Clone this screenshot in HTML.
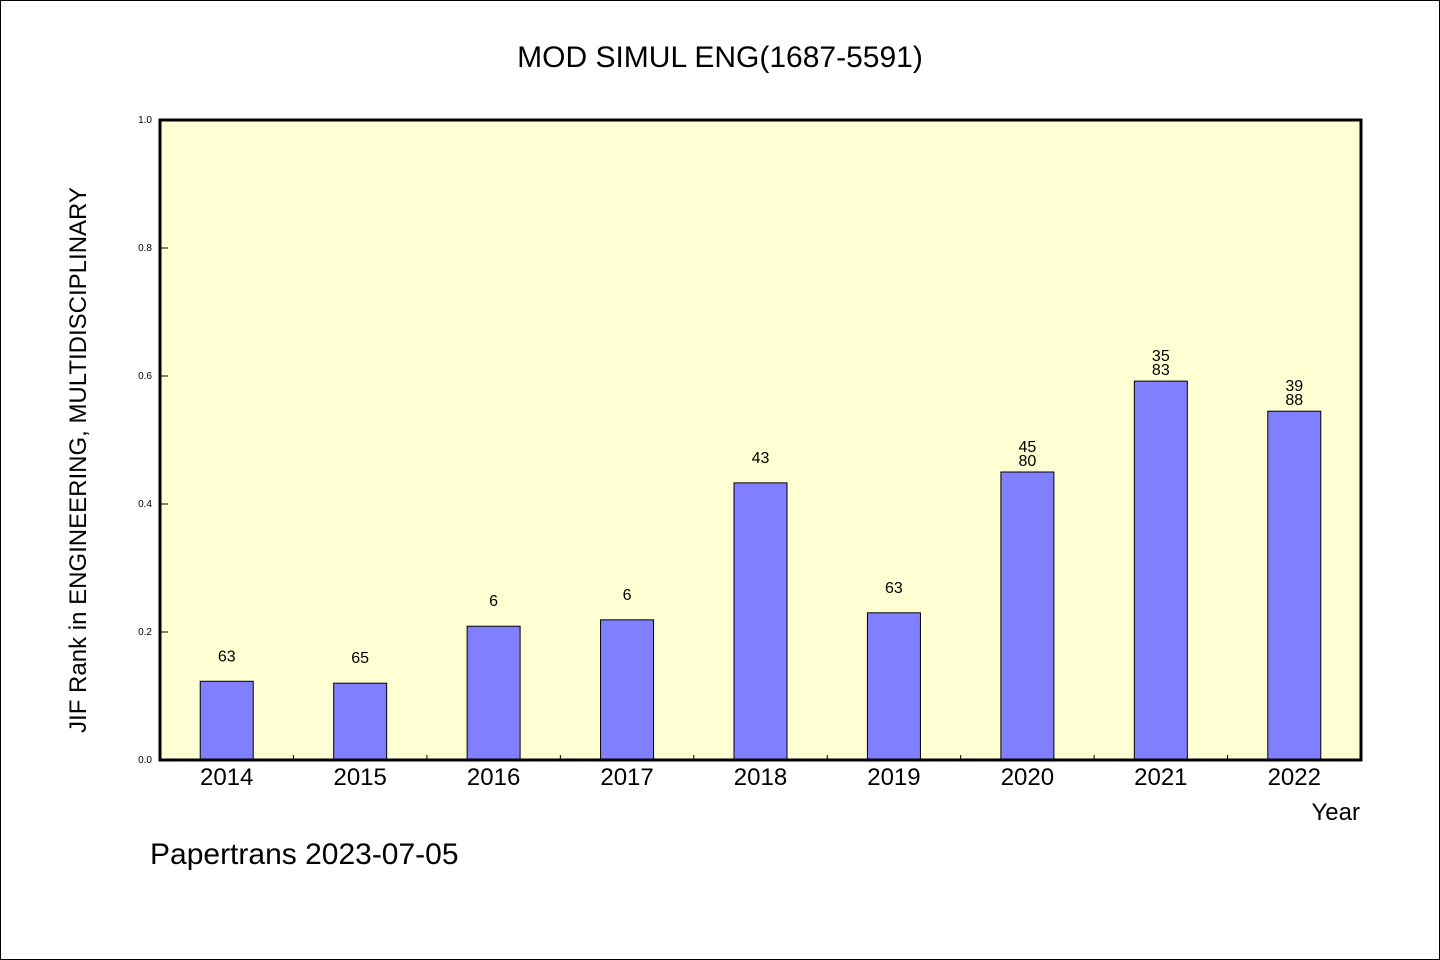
<!DOCTYPE html>
<html><head><meta charset="utf-8"><style>
body{margin:0;background:#fff}
svg{display:block}
text{font-family:"WenQuanYi Zen Hei","Liberation Sans",sans-serif;fill:#000}
</style></head><body>
<svg id="chart" width="1440" height="960">
<rect x="0.5" y="0.5" width="1439" height="959" fill="#fff" stroke="#000"/>
<text x="720" y="67" font-size="30" text-anchor="middle">MOD SIMUL ENG(1687-5591)</text>
<rect x="160" y="120" width="1201" height="640" fill="#ffffd4"/>
<g id="bars"></g>
<rect x="160" y="120" width="1201" height="640" fill="none" stroke="#000" stroke-width="3"/>
<text transform="translate(86,460) rotate(-90)" font-size="24" text-anchor="middle">JIF Rank in ENGINEERING, MULTIDISCIPLINARY</text>
<text x="1360" y="820" font-size="24" text-anchor="end">Year</text>
<text x="150" y="864" font-size="30">Papertrans 2023-07-05</text>
</svg>
<script>
const years=["2014","2015","2016","2017","2018","2019","2020","2021","2022"];
const values=[0.123,0.120,0.209,0.219,0.433,0.230,0.450,0.592,0.545];
const labelTop=["63","65","6","6","43","63","45","35","39"];
const labelBottom=["","","","","","","80","83","88"];
const yTicks=[0,0.2,0.4,0.6,0.8,1.0];
const X0=160,X1=1361,Y0=760,Y1=120;
const band=(X1-X0)/years.length;
const xc=i=>X0+band*(i+0.5);
const y=v=>Y0-(Y0-Y1)*v;
const ns="http://www.w3.org/2000/svg";
const g=document.getElementById('bars');
function mk(tag,a){const e=document.createElementNS(ns,tag);for(const k in a)e.setAttribute(k,a[k]);g.appendChild(e);return e;}
yTicks.forEach(t=>{
  const l=mk('line',{x1:X0,x2:X0+8,y1:y(t),y2:y(t),stroke:'#000'});
  
  
  const tx=mk('text',{x:X0-8,y:y(t)+3,'font-size':10,'text-anchor':'end'});
  tx.textContent=t.toFixed(1);
  
  
});
years.forEach((yr,i)=>{
  if(i>0){const tk=mk('line',{x1:X0+band*i,x2:X0+band*i,y1:Y0,y2:Y0-5,stroke:'#000'});
  
  }
  const bw=53;
  const b=mk('rect',{x:xc(i)-bw/2,y:y(values[i]),width:bw,height:Y0-y(values[i]),fill:'#8080ff',stroke:'#000','stroke-width':1});
  
  
  const xl=mk('text',{x:xc(i),y:785,'font-size':24,'text-anchor':'middle'});
  xl.textContent=yr;
  
  
  const top=y(values[i]);
  if(labelBottom[i]){
    const a=mk('text',{x:xc(i),y:top-20,'font-size':16,'text-anchor':'middle'});a.textContent=labelTop[i];
    
    
    const c=mk('text',{x:xc(i),y:top-6,'font-size':16,'text-anchor':'middle'});c.textContent=labelBottom[i];
    
    
  } else {
    const a=mk('text',{x:xc(i),y:top-20,'font-size':16,'text-anchor':'middle'});a.textContent=labelTop[i];
    
    
  }
});
</script>
</body></html>
